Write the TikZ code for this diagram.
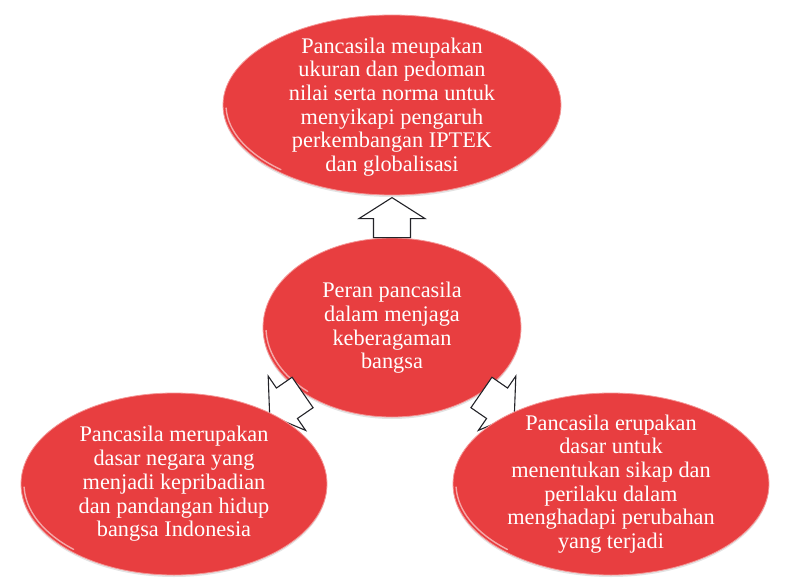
\documentclass[tikz,border=0pt]{standalone}
\usepackage{fontspec}
\setmainfont{Liberation Serif}
\usetikzlibrary{shapes.geometric,shadows}
\definecolor{ellred}{RGB}{232,62,64}
\definecolor{rimred}{RGB}{244,150,150}
\definecolor{arrowline}{RGB}{35,35,40}
\newcommand\ellrim[3]{\draw[rimhl] ([shift={({#2*cos(132)},{#3*sin(132)})}]#1.center) arc[start angle=132, end angle=178, x radius=#2, y radius=#3];}
\begin{document}
\begin{tikzpicture}[x=1pt,y=-1pt,
  blob/.style={ellipse, fill=ellred, draw=rimred, line width=0.8pt, inner sep=0pt,
    drop shadow={shadow xshift=0pt, shadow yshift=-2pt, opacity=0.22}},
  rimhl/.style={white, opacity=0.55, line width=1.4pt, line cap=round},
  txt/.style={align=center, text=white, font=\fontsize{22.3}{23.7}\selectfont, inner sep=0pt},
  barrow/.style={fill=white, draw=arrowline, line width=1.1pt, line join=miter},
  pics/blockarrow/.style={code={\draw[barrow] (-18.5,0) -- (-18.5,-19) -- (-33,-19) -- (0,-40) -- (33,-19) -- (18.5,-19) -- (18.5,0) -- cycle;}}
]
\useasboundingbox (0,0) rectangle (787,586);
% centre ellipse first (arrows start on its border)
\node[blob, minimum width=258pt, minimum height=179pt] (mid) at (392,327.5) {};
\ellrim{mid}{126}{86}
% block arrows
\pic (arrtop) at (mid.north) {blockarrow};
\pic[rotate=124.6] (arrleft) at (mid.216) {blockarrow};
\pic[rotate=-124.6] (arrright) at (mid.-36) {blockarrow};
% outer ellipses
\node[blob, minimum width=338pt, minimum height=180pt] (top) at (392,105) {};
\ellrim{top}{166}{87}
\node[blob, minimum width=306pt, minimum height=182pt] (left) at (174,484) {};
\ellrim{left}{150}{88}
\node[blob, minimum width=316pt, minimum height=182pt] (right) at (611,484) {};
\ellrim{right}{155}{88}
% texts
\node[txt] (midtxt) at (392,328) {Peran pancasila\\dalam menjaga\\keberagaman\\bangsa};
\node[txt] (toptxt) at (392,107) {Pancasila meupakan\\ukuran dan pedoman\\nilai serta norma untuk\\menyikapi pengaruh\\perkembangan IPTEK\\dan globalisasi};
\node[txt] (lefttxt) at (174,484) {Pancasila merupakan\\dasar negara yang\\menjadi kepribadian\\dan pandangan hidup\\bangsa Indonesia};
\node[txt] (righttxt) at (611,484) {Pancasila erupakan\\dasar untuk\\menentukan sikap dan\\perilaku dalam\\menghadapi perubahan\\yang terjadi};
\end{tikzpicture}
\end{document}
